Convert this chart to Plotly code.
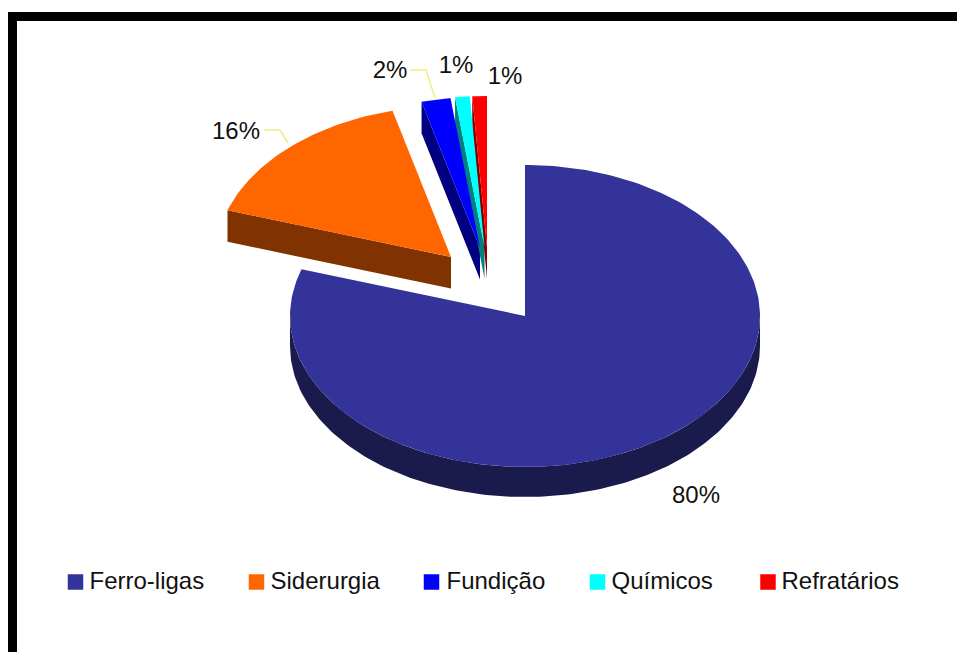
import math
import plotly.graph_objects as go

# Shares per consumer sector
categories = ["Ferro-ligas", "Siderurgia", "Fundição", "Químicos", "Refratários"]
shares = [80, 16, 2, 1, 1]
labels = ["80%", "16%", "2%", "1%", "1%"]

top_colors = ["#333399", "#FF6600", "#0000FF", "#00FFFF", "#FF0000"]
side_colors = ["#1A1A4D", "#803300", "#000080", "#008080", "#800000"]

# Pie geometry in page pixels
CX, CY = 525, 316
RX, RY = 235, 151
DEPTH = 30
WEDGE_DEPTH = 31.5
# Explosion offset of each wedge's apex from the pie centre
explode = [(0, 0), (-74, -59), (-45, -68), (-40.5, -69), (-38, -69)]

label_pos = [(696, 497), (236, 133), (390, 72), (456, 67), (505, 78)]
legend_swatch_x = [75.5, 256.5, 431.5, 597.5, 768]
legend_text_x = [89.5, 270.5, 446.5, 611.5, 781.5]
LEGEND_Y = 582
# Leader lines from the 16% and 2% labels to their wedges
leaders = [([264, 280, 288], [130, 130, 143]), ([410, 426, 435], [70, 70, 98])]


def rim(a0, a1, cx, cy, step=1.0):
    """Points on the top ellipse, clockwise from 12 o'clock, in degrees."""
    n = max(2, int(abs(a1 - a0) / step) + 1)
    xs, ys = [], []
    for i in range(n + 1):
        a = math.radians(a0 + (a1 - a0) * i / n)
        xs.append(cx + RX * math.sin(a))
        ys.append(cy - RY * math.cos(a))
    return xs, ys


fig = go.Figure()


def polygon(xs, ys, color, name):
    fig.add_trace(go.Scatter(x=xs, y=ys, mode="lines", fill="toself", fillcolor=color,
                             line=dict(width=0, color=color), hoverinfo="name", name=name,
                             showlegend=False))


angles = [0]
for s in shares:
    angles.append(angles[-1] + s * 3.6)

# Side walls first, so the top faces sit over them
for i, cat in enumerate(categories):
    a0, a1 = angles[i], angles[i + 1]
    cx, cy = CX + explode[i][0], CY + explode[i][1]
    if i == 0:
        # Visible outer wall: the front half of the rim only
        xs, ys = rim(90, 270, cx, cy)
        polygon(xs + xs[::-1], ys + [y + DEPTH for y in ys[::-1]], side_colors[i], cat)
    else:
        # Visible cut face along the wedge's leading edge
        ox, oy = rim(a0, a0, cx, cy)
        polygon([ox[0], cx, cx, ox[0]], [oy[0], cy, cy + WEDGE_DEPTH, oy[0] + WEDGE_DEPTH],
                side_colors[i], cat)

for i, cat in enumerate(categories):
    cx, cy = CX + explode[i][0], CY + explode[i][1]
    xs, ys = rim(angles[i], angles[i + 1], cx, cy)
    polygon([cx] + xs + [cx], [cy] + ys + [cy], top_colors[i], cat)

for lx, ly in leaders:
    fig.add_trace(go.Scatter(x=lx, y=ly, mode="lines", line=dict(color="#F2EE80", width=1.5),
                             hoverinfo="skip", showlegend=False))

fig.add_trace(go.Scatter(x=[p[0] for p in label_pos], y=[p[1] for p in label_pos], mode="text",
                         text=labels, textposition="middle center",
                         textfont=dict(family="Liberation Sans", size=24, color="#111111"),
                         hoverinfo="skip", showlegend=False))

# Legend row
fig.add_trace(go.Scatter(x=legend_swatch_x, y=[LEGEND_Y] * 5, mode="markers",
                         marker=dict(symbol="square", size=15.5, color=top_colors, line=dict(width=0)),
                         hoverinfo="skip", showlegend=False))
fig.add_trace(go.Scatter(x=legend_text_x, y=[LEGEND_Y + 1] * 5, mode="text", text=categories,
                         textposition="middle right",
                         textfont=dict(family="Liberation Sans", size=24, color="#111111"),
                         hoverinfo="skip", showlegend=False))

# Black frame on the top and left edges
frame = [dict(x0=8, x1=17, y0=12, y1=652), dict(x0=8, x1=957, y0=12, y1=21)]
shapes = [dict(type="rect", xref="x", yref="y", fillcolor="#000000", line=dict(width=0), **f) for f in frame]

fig.update_layout(width=957, height=652, margin=dict(l=0, r=0, t=0, b=0),
                  paper_bgcolor="white", plot_bgcolor="white", shapes=shapes,
                  xaxis=dict(range=[0, 957], visible=False, fixedrange=True),
                  yaxis=dict(range=[652, 0], visible=False, fixedrange=True))

fig.write_html("out.html", config=dict(displayModeBar=False))
